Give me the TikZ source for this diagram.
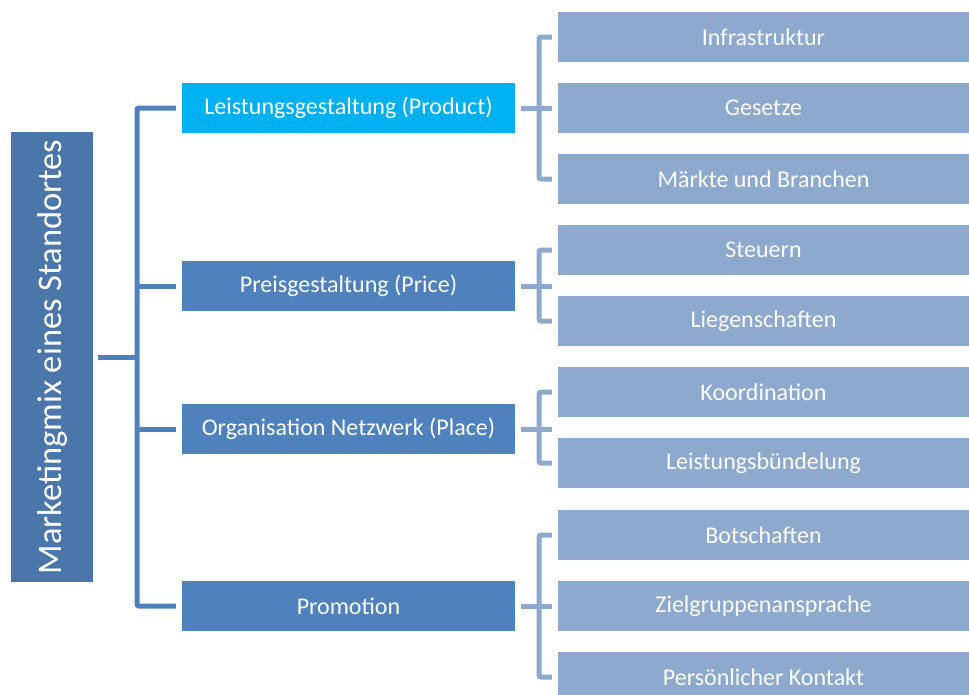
\documentclass[tikz,border=0pt]{standalone}
\usepackage{fontspec}
\setmainfont{Carlito}
\usetikzlibrary{calc}
\definecolor{rootc}{HTML}{4A76AA}
\definecolor{lvone}{HTML}{4F81BD}
\definecolor{prodc}{HTML}{00B0F0}
\definecolor{lvtwo}{HTML}{8DA9CE}
\tikzset{
  rootbox/.style={fill=rootc, text=white, minimum width=82pt, minimum height=450pt, inner sep=0pt},
  onebox/.style={fill=lvone, text=white, minimum width=333pt, minimum height=50pt, inner sep=0pt, font=\fontsize{24}{28}\selectfont},
  twobox/.style={fill=lvtwo, text=white, minimum width=411pt, minimum height=50pt, inner sep=0pt, font=\fontsize{24}{28}\selectfont},
  mainline/.style={draw=lvone, line width=5pt, rounded corners=2pt},
  subline/.style={draw=lvtwo, line width=5pt, rounded corners=2pt}
}
\begin{document}
\begin{tikzpicture}[x=1pt,y=-1pt]
\useasboundingbox (0,0) rectangle (969,694);
% root
\node[rootbox] (root) at (52,357) {};
\node[text=white, font=\fontsize{34.5}{40}\selectfont, rotate=90] (roottext) at (52,357) {Marketingmix eines Standortes};
% level 1
\node[onebox, fill=prodc] (n1) at (348.5,108) {Leistungsgestaltung (Product)};
\node[onebox] (n2) at (348.5,286) {Preisgestaltung (Price)};
\node[onebox] (n3) at (348.5,429) {Organisation Netzwerk (Place)};
\node[onebox] (n4) at (348.5,606) {Promotion};
% level 2
\node[twobox] (a1) at (763.5,37) {Infrastruktur};
\node[twobox] (a2) at (763.5,108) {Gesetze};
\node[twobox] (a3) at (763.5,179) {Märkte und Branchen};
\node[twobox] (b1) at (763.5,250) {Steuern};
\node[twobox] (b2) at (763.5,321) {Liegenschaften};
\node[twobox] (c1) at (763.5,392) {Koordination};
\node[twobox] (c2) at (763.5,463) {Leistungsbündelung};
\node[twobox] (d1) at (763.5,535) {Botschaften};
\node[twobox] (d2) at (763.5,606) {Zielgruppenansprache};
\node[twobox] (d3) at (763.5,677) {Persönlicher Kontakt};
% main bracket
\coordinate (bx) at (137,0);
\draw[mainline] ($(root.east)+(5,0)$) -- (root.east -| bx);
\draw[mainline] ($(n1.west)+(-6,0)$) -- (n1.west -| bx) -- (n4.west -| bx) -- ($(n4.west)+(-6,0)$);
\draw[mainline] ($(n2.west)+(-6,0)$) -- (n2.west -| bx);
\draw[mainline] ($(n3.west)+(-6,0)$) -- (n3.west -| bx);
% sub brackets
\coordinate (sx) at (539,0);
\draw[subline] ($(a1.west)+(-6,0)$) -- (a1.west -| sx) -- (a3.west -| sx) -- ($(a3.west)+(-6,0)$);
\draw[subline] ($(n1.east)+(6,0)$) -- ($(a2.west)+(-6,0)$);
\draw[subline] ($(b1.west)+(-6,0)$) -- (b1.west -| sx) -- (b2.west -| sx) -- ($(b2.west)+(-6,0)$);
\draw[subline] ($(n2.east)+(6,0)$) -- ($(n2.east -| b1.west)+(-6,0)$);
\draw[subline] ($(c1.west)+(-6,0)$) -- (c1.west -| sx) -- (c2.west -| sx) -- ($(c2.west)+(-6,0)$);
\draw[subline] ($(n3.east)+(6,0)$) -- ($(n3.east -| c1.west)+(-6,0)$);
\draw[subline] ($(d1.west)+(-6,0)$) -- (d1.west -| sx) -- (d3.west -| sx) -- ($(d3.west)+(-6,0)$);
\draw[subline] ($(n4.east)+(6,0)$) -- ($(d2.west)+(-6,0)$);
\end{tikzpicture}
\end{document}
